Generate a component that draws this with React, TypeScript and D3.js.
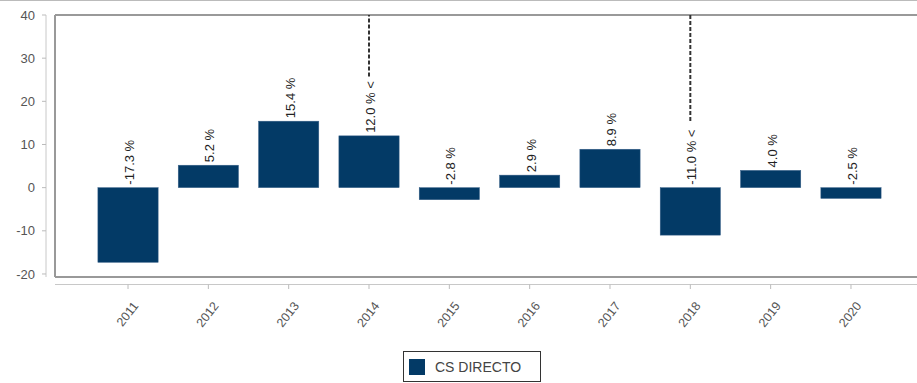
import React from "react";
import * as d3 from "d3";

const years = ["2011", "2012", "2013", "2014", "2015", "2016", "2017", "2018", "2019", "2020"];
const values = [-17.3, 5.2, 15.4, 12.0, -2.8, 2.9, 8.9, -11.0, 4.0, -2.5];
const yTicks = [40, 30, 20, 10, 0, -10, -20];
const leaderYears = ["2014", "2018"];
const seriesName = "CS DIRECTO";

const W = 917;
const H = 383;
const FONT = "'Liberation Sans', Arial, sans-serif";

export default function App() {
  const frameLeft = 55;
  const frameTop = 15;
  const frameBottom = 277;
  const y = d3.scaleLinear().domain([-20.7, 40]).range([frameBottom, frameTop]);
  const x = d3
    .scaleBand<string>()
    .domain(years)
    .range([frameLeft, 924])
    .paddingInner(0.25)
    .paddingOuter(0.534);
  const bw = x.bandwidth();
  const barColor = "#033a66";
  const fmt = (v: number) => `${v.toFixed(1)} %`;

  return (
    <svg
      width={W}
      height={H}
      style={{ position: "absolute", left: 0, top: 0, background: "#fff" }}
      fontFamily={FONT}
    >
      <line x1={0} x2={W} y1={0.5} y2={0.5} stroke="#bbb" strokeWidth={1} />
      {/* y axis */}
      <line x1={46} x2={46} y1={frameTop} y2={frameBottom} stroke="#c8c8c8" strokeWidth={1} />
      {yTicks.map((t) => (
        <g key={t}>
          <line x1={42} x2={46} y1={y(t)} y2={y(t)} stroke="#bbb" />
          <text x={35} y={y(t)} dy="0.35em" textAnchor="end" fontSize={13} fill="#555">
            {t}
          </text>
        </g>
      ))}
      {/* frame */}
      <line x1={frameLeft} x2={W} y1={frameTop} y2={frameTop} stroke="#999" strokeWidth={2} />
      <line x1={frameLeft} x2={frameLeft} y1={frameTop} y2={frameBottom} stroke="#999" strokeWidth={2} />
      <line x1={frameLeft} x2={W} y1={frameBottom} y2={frameBottom} stroke="#999" strokeWidth={2} />
      {/* x axis */}
      <line x1={frameLeft} x2={W} y1={284.5} y2={284.5} stroke="#c8c8c8" strokeWidth={1} />
      {years.map((yr) => {
        const cx = (x(yr) as number) + bw / 2;
        return (
          <g key={yr}>
            <line x1={cx} x2={cx} y1={284.5} y2={289} stroke="#bbb" />
            <text
              transform={`translate(${cx + 11},${306}) rotate(-52)`}
              textAnchor="end"
              fontSize={12.5}
              fill="#555"
            >
              {yr}
            </text>
          </g>
        );
      })}
      {/* bars */}
      {years.map((yr, i) => {
        const v = values[i];
        const bx = x(yr) as number;
        const top = y(Math.max(0, v));
        const bot = y(Math.min(0, v));
        return (
          <rect key={yr} x={bx} y={top} width={bw} height={bot - top} fill={barColor} stroke="#3a628a" strokeWidth={0.5} />
        );
      })}
      {/* labels */}
      {years.map((yr, i) => {
        const v = values[i];
        const cx = (x(yr) as number) + bw / 2 + 1.5;
        const ly = y(Math.max(0, v)) - 3;
        const leader = leaderYears.includes(yr);
        const label = fmt(v);
        return (
          <g key={yr}>
            <text
              transform={`translate(${cx},${ly}) rotate(-90)`}
              dominantBaseline="central"
              fontSize={13}
              fill="#222"
            >
              {leader ? label + " <" : label}
            </text>
          </g>
        );
      })}
      {years.map((yr, i) => {
        if (!leaderYears.includes(yr)) return null;
        const v = values[i];
        const cx = (x(yr) as number) + bw / 2;
        const ly = y(Math.max(0, v)) - 3;
        const txtLen = (fmt(v) + " <").length * 7.3;
        return (
          <line
            key={yr}
            x1={cx}
            x2={cx}
            y1={ly - txtLen + 2}
            y2={frameTop}
            stroke="#333"
            strokeWidth={2}
            strokeDasharray="4,2"
          />
        );
      })}
      {/* legend */}
      <rect x={403.5} y={351.5} width={137} height={30} fill="#fff" stroke="#333" strokeWidth={1} />
      <rect x={409} y={359} width={16} height={16} fill={barColor} />
      <text x={435} y={367} dy="0.35em" fontSize={14} fill="#444">
        {seriesName}
      </text>
    </svg>
  );
}
